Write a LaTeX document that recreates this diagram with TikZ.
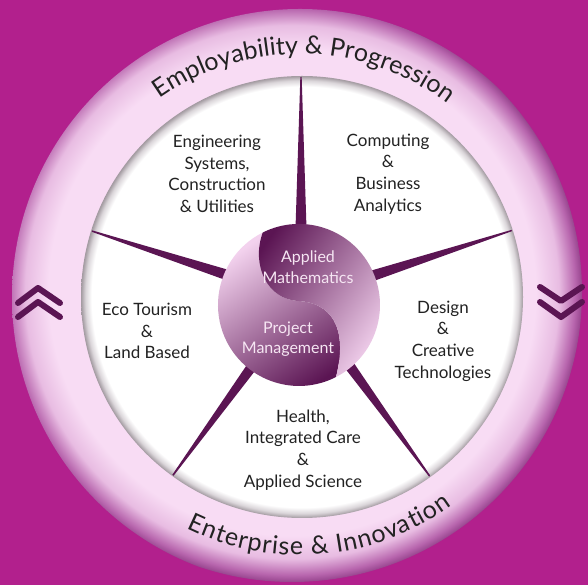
\documentclass[tikz,border=0pt]{standalone}
\usepackage{fontspec}
\setmainfont{Lato}
\usetikzlibrary{calc}

\definecolor{bgmag}{HTML}{B2208D}
\definecolor{ringlight}{HTML}{F8DCF4}
\definecolor{ringmid}{HTML}{E8BCE2}
\definecolor{ringdeep}{HTML}{B866AE}
\definecolor{ringedge}{HTML}{7C2A74}
\definecolor{plum}{HTML}{5B1553}
\definecolor{blush}{HTML}{F3D2EE}
\definecolor{mauve}{HTML}{94548E}
\definecolor{mauvedeep}{HTML}{67245F}
\definecolor{wellgray}{HTML}{A29AA0}
\definecolor{wellsoft}{HTML}{DAD5D9}
\definecolor{inkgray}{HTML}{222222}
\definecolor{paletext}{HTML}{F6E6F3}

% ring: light next to the white well, deepening towards the rim
\pgfdeclareradialshading{ringshade}{\pgfpoint{0bp}{0bp}}{color(0bp)=(ringlight); color(19.3bp)=(ringlight); color(21bp)=(ringlight); color(23bp)=(ringmid); color(24.4bp)=(ringdeep); color(25.5bp)=(ringedge); color(50bp)=(ringedge)}
% white well with a soft grey inner edge
\pgfdeclareradialshading{wellshade}{\pgfpoint{0bp}{0bp}}{color(0bp)=(white); color(23.8bp)=(white); color(24.5bp)=(wellsoft); color(25bp)=(wellgray); color(50bp)=(wellgray)}

\newcommand\ringfont{\fontsize{25}{25}\selectfont}
\newlength\glyphw

% advances of the glyphs of a ring caption (#3 = extra tracking in pt),
% stored as \<tag>w<i> and \<tag>sum
\newcommand\measurecaption[3]{%
  \xdef\arcsum{0}%
  \foreach \ch [count=\i] in {#2}{%
    \settowidth\glyphw{\ringfont\ch}%
    \pgfmathsetmacro\adv{\glyphw+#3}%
    \expandafter\xdef\csname #1w\i\endcsname{\adv}%
    \pgfmathsetmacro\tmpsum{\arcsum+\adv}%
    \xdef\arcsum{\tmpsum}%
  }%
  \expandafter\xdef\csname #1sum\endcsname{\arcsum}%
}

% set a ring caption glyph by glyph along a circle about (o)
% #1 tag, #2 baseline radius, #3 middle angle,
% #4 side (1: clockwise over the top, -1: counter-clockwise under the bottom), #5 glyphs
\newcommand\arccaption[5]{%
  \xdef\arcpos{0}%
  \foreach \ch [count=\i] in {#5}{%
    \edef\gw{\csname #1w\i\endcsname}%
    \edef\gsum{\csname #1sum\endcsname}%
    \pgfmathsetmacro\arcang{#3+(#4)*(\gsum/2-\arcpos-\gw/2)*57.29578/#2}%
    \pgfmathsetmacro\arcrot{\arcang-90*(#4)}%
    \node[ringglyph, rotate=\arcrot] (#1-\i) at ($(o)+(\arcang:#2)$) {\ch};
    \pgfmathsetmacro\tmpsum{\arcpos+\gw}%
    \xdef\arcpos{\tmpsum}%
  }%
}

\newcommand\topglyphs{E,m,p,l,o,y,a,b,i,l,i,t,y,\ ,\&,\ ,P,r,o,g,r,e,s,s,i,o,n}
\newcommand\botglyphs{E,n,t,e,r,p,r,i,s,e,\ ,\&,\ ,I,n,n,o,v,a,t,i,o,n}

\begin{document}
\expandafter\measurecaption\expandafter{\expandafter t\expandafter o\expandafter p\expandafter}\expandafter{\topglyphs}{0}%
\expandafter\measurecaption\expandafter{\expandafter b\expandafter o\expandafter t\expandafter}\expandafter{\botglyphs}{0.9}%
\begin{tikzpicture}[x=1pt,y=1pt,
  seglabel/.style={align=center,text=inkgray,font=\fontsize{17}{21.7}\selectfont,inner sep=0pt},
  hublabel/.style={align=center,text=paletext,font=\fontsize{16}{20.5}\selectfont,inner sep=0pt},
  ringglyph/.style={inner sep=0pt,anchor=base,font=\ringfont,text=inkgray},
  chev/.style={draw=plum,line width=6pt,line cap=round,line join=round},
  spoke/.style={fill=plum}]
\useasboundingbox (0,0) rectangle (588,585);
\fill[bgmag] (0,0) rectangle (588,585);

\coordinate (o) at (300,288);
\coordinate (rs) at (292,293);
\coordinate (w) at (302,288);
\coordinate (s) at (301,286);
\coordinate (c) at (299,280);

% outer ring, its shading a little off centre so the rim deepens to the right and below
\begin{scope}
  \clip (o) circle[radius=288];
  \shade[shading=ringshade] (rs) circle[radius=290];
\end{scope}
% white well
\shade[shading=wellshade] (w) circle[radius=221];

% five tapering spokes
\begin{scope}
  \clip (w) circle[radius=220];
  \foreach \a in {90,18,162,234,306}{
    \begin{scope}[shift={(s)},rotate=\a]
      \fill[spoke] (55,6) -- (224,0.6) -- (224,-0.6) -- (55,-6) -- cycle;
    \end{scope}
  }
\end{scope}

% hub: two interlocking shaded halves
\begin{scope}[shift={(c)}]
  \shade[top color=blush, middle color=mauve, bottom color=plum, shading angle=35]
    (-36.3,72.4) .. controls (-48,40) and (-32,5) .. (0,4)
    .. controls (30,2) and (50,-20) .. (37,-72)
    arc[start angle=-62.8, end angle=-243.4, radius=81] -- cycle;
  \shade[top color=plum, middle color=mauvedeep, bottom color=blush, shading angle=55]
    (-36.3,72.4) .. controls (-48,40) and (-32,5) .. (0,4)
    .. controls (30,2) and (50,-20) .. (37,-72)
    arc[start angle=-62.8, end angle=116.6, radius=81] -- cycle;
\end{scope}

% curved ring captions
\arccaption{top}{243}{89}{1}{E,m,p,l,o,y,a,b,i,l,i,t,y,\ ,\&,\ ,P,r,o,g,r,e,s,s,i,o,n}
\arccaption{bot}{258}{275}{-1}{E,n,t,e,r,p,r,i,s,e,\ ,\&,\ ,I,n,n,o,v,a,t,i,o,n}

% chevrons
\draw[chev] (18,282) -- (38,297) -- (60,282);
\draw[chev] (18,268) -- (38,283) -- (60,268);
\draw[chev] (540,298) -- (561,284) -- (582,298);
\draw[chev] (540,283) -- (561,268) -- (582,283);

% segment labels
\node[seglabel] (eng) at (217,411) {Engineering\\Systems,\\Construction\\\& Utilities};
\node[seglabel] (comp) at (388,411) {Computing\\\&\\Business\\Analytics};
\node[seglabel] (eco) at (147,254) {Eco Tourism\\\&\\Land Based};
\node[seglabel] (design) at (443,244) {Design\\\&\\Creative\\Technologies};
\node[seglabel] (health) at (303,135) {Health,\\Integrated Care\\\&\\Applied Science};

% hub labels
\node[hublabel] (maths) at (308,318) {Applied\\Mathematics};
\node[hublabel] (pm) at (288,246) {Project\\Management};
\end{tikzpicture}
\end{document}
